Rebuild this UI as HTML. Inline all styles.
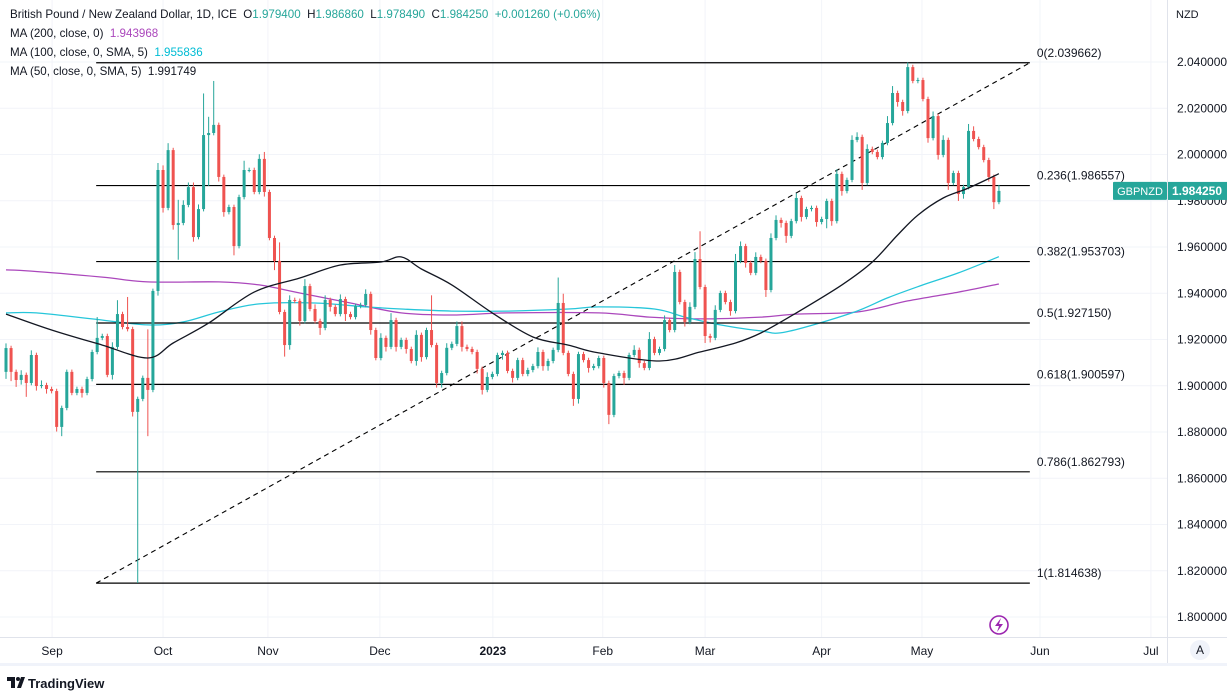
<!DOCTYPE html>
<html><head><meta charset="utf-8"><style>
html,body{margin:0;padding:0;background:#fff;width:1227px;height:693px;overflow:hidden;font-family:"Liberation Sans",sans-serif;}
#legend{position:absolute;left:10px;top:5px;font-size:11.6px;color:#131722;line-height:19px;}
#legend .g{color:#26a69a}#legend .p{color:#ab47bc}#legend .c{color:#00bcd4}
</style></head><body>
<svg id="chart" width="1227" height="693" style="position:absolute;left:0;top:0" xmlns="http://www.w3.org/2000/svg" font-family="Liberation Sans, sans-serif"></svg>
<div id="legend">
<div>British Pound / New Zealand Dollar, 1D, ICE &nbsp;O<span class="g">1.979400</span> &nbsp;H<span class="g">1.986860</span> &nbsp;L<span class="g">1.978490</span> &nbsp;C<span class="g">1.984250</span> &nbsp;<span class="g">+0.001260 (+0.06%)</span></div>
<div>MA (200, close, 0) &nbsp;<span class="p">1.943968</span></div>
<div>MA (100, close, 0, SMA, 5) &nbsp;<span class="c">1.955836</span></div>
<div>MA (50, close, 0, SMA, 5) &nbsp;<span>1.991749</span></div>
</div>
<script>
const closes=[1.9163,1.9060,1.9025,1.9047,1.9012,1.9133,1.8999,1.9003,1.8986,1.8977,
1.8822,1.8904,1.9060,1.8969,1.8986,1.8969,1.9029,1.9146,1.9207,1.9215,
1.9047,1.9168,1.9310,1.9254,1.9245,1.8887,1.8943,1.9034,1.8982,1.9410,
1.9933,1.9769,2.0019,1.9695,1.9704,1.9782,1.9859,1.9643,1.9764,2.0084,
2.0093,2.0128,1.9903,1.9751,1.9773,1.9604,1.9816,1.9933,1.9933,1.9838,
1.9981,1.9838,1.9639,1.9540,1.9319,1.9176,1.9371,1.9367,1.9280,1.9431,
1.9332,1.9280,1.9250,1.9371,1.9341,1.9310,1.9375,1.9310,1.9297,1.9345,
1.9349,1.9397,1.9241,1.9120,1.9207,1.9168,1.9284,1.9168,1.9198,1.9159,
1.9107,1.9220,1.9124,1.9241,1.9176,1.9012,1.9055,1.9164,1.9181,1.9258,
1.9168,1.9159,1.9146,1.9073,1.8982,1.9038,1.9051,1.9133,1.9142,1.9064,
1.9034,1.9111,1.9051,1.9068,1.9085,1.9146,1.9085,1.9107,1.9155,1.9358,
1.9142,1.9051,1.8943,1.9137,1.9111,1.9077,1.9085,1.9120,1.9012,1.8874,
1.9042,1.9055,1.9034,1.9133,1.9155,1.9098,1.9077,1.9202,1.9142,1.9159,
1.9284,1.9241,1.9492,1.9362,1.9276,1.9341,1.9548,1.9427,1.9215,1.9207,
1.9328,1.9401,1.9362,1.9323,1.9540,1.9604,1.9531,1.9488,1.9557,1.9540,
1.9414,1.9639,1.9717,1.9704,1.9648,1.9712,1.9812,1.9730,1.9764,1.9769,
1.9708,1.9721,1.9799,1.9712,1.9916,1.9842,1.9890,2.0063,2.0076,1.9877,
2.0024,2.0011,1.9989,2.0050,2.0136,2.0266,2.0227,2.0188,2.0378,2.0318,
2.0322,2.0240,2.0071,2.0166,1.9998,2.0063,1.9877,1.9920,1.9829,1.9859,
2.0102,2.0067,2.0032,1.9976,1.9903,1.9794,1.98425];
const firstOpen=1.9060;
const wickUp=[2,1,1,2,1,2,1,2,1,1, 1,1,1,1,1,1,1,1,9,1, 1,2,6,1,13,1,1,1,21,1, 3,2,3,1,10,2,2,2,2,18,
7,19,1,1,1,1,1,4,1,1, 2,3,1,1,8,1,2,1,1,3, 1,2,1,2,1,1,2,1,1,1, 1,2,1,1,2,1,3,1,1,1,
1,2,1,1,15,1,1,2,1,2, 2,1,1,1,1,2,1,1,1,1, 1,1,1,1,1,2,1,1,1,11, 4,1,1,1,1,1,1,1,1,1,
1,1,1,1,2,1,1,3,1,1, 2,1,3,1,1,2,3,12,1,1, 2,1,1,1,3,2,1,1,2,1, 1,2,2,1,1,1,2,1,1,1,
1,1,1,1,2,1,1,2,2,1, 2,1,1,1,3,3,1,1,2,1, 1,1,1,2,1,2,1,1,1,1, 3,2,1,1,1,1,2.6];
const wickDown=[3,4,3,2,6,1,2,1,2,1, 2,4,1,1,1,2,1,1,1,1, 1,2,1,1,1,2,74,1,20,1, 2,2,1,2,15,1,1,2,1,1,
22,1,2,2,1,4,1,1,1,1, 1,2,1,4,1,5,2,1,2,1, 1,1,3,1,2,1,1,3,1,1, 1,1,2,1,1,2,1,2,1,2,
1,2,2,1,1,2,2,1,1,1, 2,1,1,2,2,1,1,1,2,1, 2,1,1,1,1,1,2,2,1,1, 1,1,3,2,1,2,1,1,2,4,
1,1,3,1,1,2,1,1,1,1, 1,1,1,1,2,1,1,1,3,2, 1,1,1,2,1,1,2,1,1,1, 3,1,1,2,3,1,1,2,1,1,
2,1,4,2,1,2,1,1,1,3, 1,1,1,1,1,1,2,2,1,1, 1,1,2,1,2,1,3,1,3,2, 1,1,1,1,2,3,0.9];
const ma50Idx=[0,9,19,28,33,40,49,58,66,74,78,82,88,96,104,111,117,129,137,144,149,156,165,171,176,180,185,190,196];
const ma50Val=[1.9310,1.9241,1.9176,1.9120,1.9185,1.9271,1.9405,1.9466,1.9522,1.9535,1.9557,1.9505,1.9436,1.9315,1.9211,1.9176,1.9142,1.9107,1.9146,1.9185,1.9228,1.9315,1.9436,1.9535,1.9652,1.9738,1.9812,1.9855,1.9917];
const ma100Idx=[0,6,17,28,35,42,50,61,71,78,88,99,111,117,128,134,141,149,154,167,174,181,188,196];
const ma100Val=[1.9315,1.9315,1.9289,1.9263,1.9276,1.9319,1.9354,1.9358,1.9341,1.9332,1.9323,1.9323,1.9332,1.9341,1.9332,1.9297,1.9263,1.9237,1.9233,1.9315,1.9380,1.9436,1.9488,1.9558];
const ma200Idx=[0,5,19,28,42,50,58,68,78,88,99,117,127,137,149,156,168,178,188,196];
const ma200Val=[1.9501,1.9496,1.9470,1.9449,1.9449,1.9436,1.9401,1.9358,1.9315,1.9306,1.9315,1.9315,1.9297,1.9289,1.9297,1.9310,1.9319,1.9367,1.9405,1.9440];
const fibLevels=["0","0.236","0.382","0.5","0.618","0.786","1"];
const fibPrices=[2.039662,1.986557,1.953703,1.927150,1.900597,1.862793,1.814638];
const fibStartIdx=17.8, fibEndIdx=202.1;
const priceTicks=[1.80,1.82,1.84,1.86,1.88,1.90,1.92,1.94,1.96,1.98,2.00,2.02,2.04];
const monthLabels=["Sep","Oct","Nov","Dec","2023","Feb","Mar","Apr","May","Jun","Jul"];
const monthIdx=[9.1,31,51.7,73.8,96.1,117.8,138,161,180.8,204.1,226];
const lastPrice=1.98425;

const svg=document.getElementById('chart');const NS='http://www.w3.org/2000/svg';
const X=i=>6+5.066*i;
const Y=p=>62+(2.04-p)/0.02*46.25;
function mk(tag,attrs,parent){const e=document.createElementNS(NS,tag);for(const k in attrs)e.setAttribute(k,attrs[k]);(parent||svg).appendChild(e);return e;}
const PW=1167,PH=637;
priceTicks.forEach(p=>{const l=mk('line',{x1:0,x2:PW,y1:Y(p),y2:Y(p),stroke:'#f2f4f9','stroke-width':1});

});
monthIdx.forEach(m=>{const l=mk('line',{x1:X(m),x2:X(m),y1:0,y2:PH,stroke:'#f2f4f9','stroke-width':1});

});
const clip=mk('clipPath',{id:'plotclip'});mk('rect',{x:0,y:0,width:PW,height:PH},clip);
const g=mk('g',{'clip-path':'url(#plotclip)'});


function line(idx,val,color,name){
const pts=idx.map((k,j)=>[X(k),Y(val[j])]);
let d='M'+pts[0][0].toFixed(1)+' '+pts[0][1].toFixed(1);
for(let j=0;j<pts.length-1;j++){const p0=pts[Math.max(0,j-1)],p1=pts[j],p2=pts[j+1],p3=pts[Math.min(pts.length-1,j+2)];
const c1=[p1[0]+(p2[0]-p0[0])/6,p1[1]+(p2[1]-p0[1])/6],c2=[p2[0]-(p3[0]-p1[0])/6,p2[1]-(p3[1]-p1[1])/6];
d+=' C'+c1[0].toFixed(1)+' '+c1[1].toFixed(1)+' '+c2[0].toFixed(1)+' '+c2[1].toFixed(1)+' '+p2[0].toFixed(1)+' '+p2[1].toFixed(1);}
const p=mk('path',{d:d,fill:'none',stroke:color,'stroke-width':1.3,'stroke-linejoin':'round'},g);

}
line(ma200Idx,ma200Val,'#ab47bc','ma200-line');
line(ma100Idx,ma100Val,'#26c6da','ma100-line');
const x1=X(fibStartIdx),x2=X(fibEndIdx);
fibLevels.forEach((f,j)=>{const p=fibPrices[j];const y=Y(p);
const l=mk('line',{x1:x1,x2:x2,y1:y,y2:y,stroke:'#000','stroke-width':1.2},g);


const t=mk('text',{x:x2+7,y:y-6,'font-size':12,fill:'#131722'},g);t.textContent=f+'('+p.toFixed(6)+')';

});
const tl=mk('line',{x1:x1,y1:Y(fibPrices[6]),x2:x2,y2:Y(fibPrices[0]),stroke:'#000','stroke-width':1.1,'stroke-dasharray':'5 4'},g);


closes.forEach((c,i)=>{const o=i===0?firstOpen:(i===closes.length-1?1.9794:closes[i-1]);
const up=c>=o;const col=up?'#26a69a':'#ef5350';
const hi=Math.max(o,c)+wickUp[i]*0.001, lo=Math.min(o,c)-wickDown[i]*0.001;
const x=X(i);
const w=mk('line',{x1:x,x2:x,y1:Y(hi),y2:Y(lo),stroke:col,'stroke-width':1},g);


const yt=Y(Math.max(o,c)),yb=Y(Math.min(o,c));
const b=mk('rect',{x:x-1.5,y:yt,width:3,height:Math.max(1,yb-yt),fill:col},g);

});
line(ma50Idx,ma50Val,'#131722','ma50-line');
const li=mk('g',{});


mk('circle',{cx:999,cy:625,r:9,fill:'none',stroke:'#9c27b0','stroke-width':1.6},li);
mk('path',{d:'M1001 618 L995 626 L999 626 L997 632 L1003 624 L999 624 Z',fill:'#9c27b0'},li);
const ab=mk('line',{x1:PW+0.5,x2:PW+0.5,y1:0,y2:664,stroke:'#e0e3eb'});


const bb=mk('line',{x1:0,x2:1227,y1:PH+0.5,y2:PH+0.5,stroke:'#e0e3eb'});


const fb=mk('rect',{x:0,y:663,width:1227,height:3,fill:'#f0f3fa'});


priceTicks.forEach(p=>{const t=mk('text',{x:1177,y:Y(p)+4,'font-size':12,fill:'#131722'});t.textContent=p.toFixed(6);

});
const nz=mk('text',{x:1176,y:18,'font-size':11,fill:'#131722'});nz.textContent='NZD';


monthLabels.forEach((m,j)=>{const t=mk('text',{x:X(monthIdx[j]),y:655,'font-size':12,fill:'#131722','text-anchor':'middle','font-weight':m==='2023'?'bold':'normal'});t.textContent=m;

});
const ly=Y(lastPrice);
const tag=mk('g',{});


mk('rect',{x:1113,y:ly-9,width:54,height:18,fill:'#26a69a',rx:1},tag);
const t1=mk('text',{x:1140,y:ly+4,'font-size':11,fill:'#fff','text-anchor':'middle'},tag);t1.textContent='GBPNZD';
mk('rect',{x:1168,y:ly-9,width:59,height:18,fill:'#26a69a'},tag);
const t2=mk('text',{x:1197,y:ly+4,'font-size':12,fill:'#fff','text-anchor':'middle','font-weight':'bold'},tag);t2.textContent=lastPrice.toFixed(6);
const ag=mk('g',{});


mk('circle',{cx:1200,cy:650,r:10,fill:'#f0f3fa'},ag);
const at=mk('text',{x:1200,y:654,'font-size':12,fill:'#131722','text-anchor':'middle'},ag);at.textContent='A';
const lg=mk('g',{});


mk('path',{d:'M7 677 h8 v11 h-4 v-7 h-4 z M17 688 l4 -11 h4 l-4 11 z',fill:'#131722'},lg);
mk('circle',{cx:18,cy:679,r:2,fill:'#131722'},lg);
const lt=mk('text',{x:28,y:688,'font-size':13,fill:'#131722','font-weight':'bold'},lg);lt.textContent='TradingView';
</script>
</body></html>
